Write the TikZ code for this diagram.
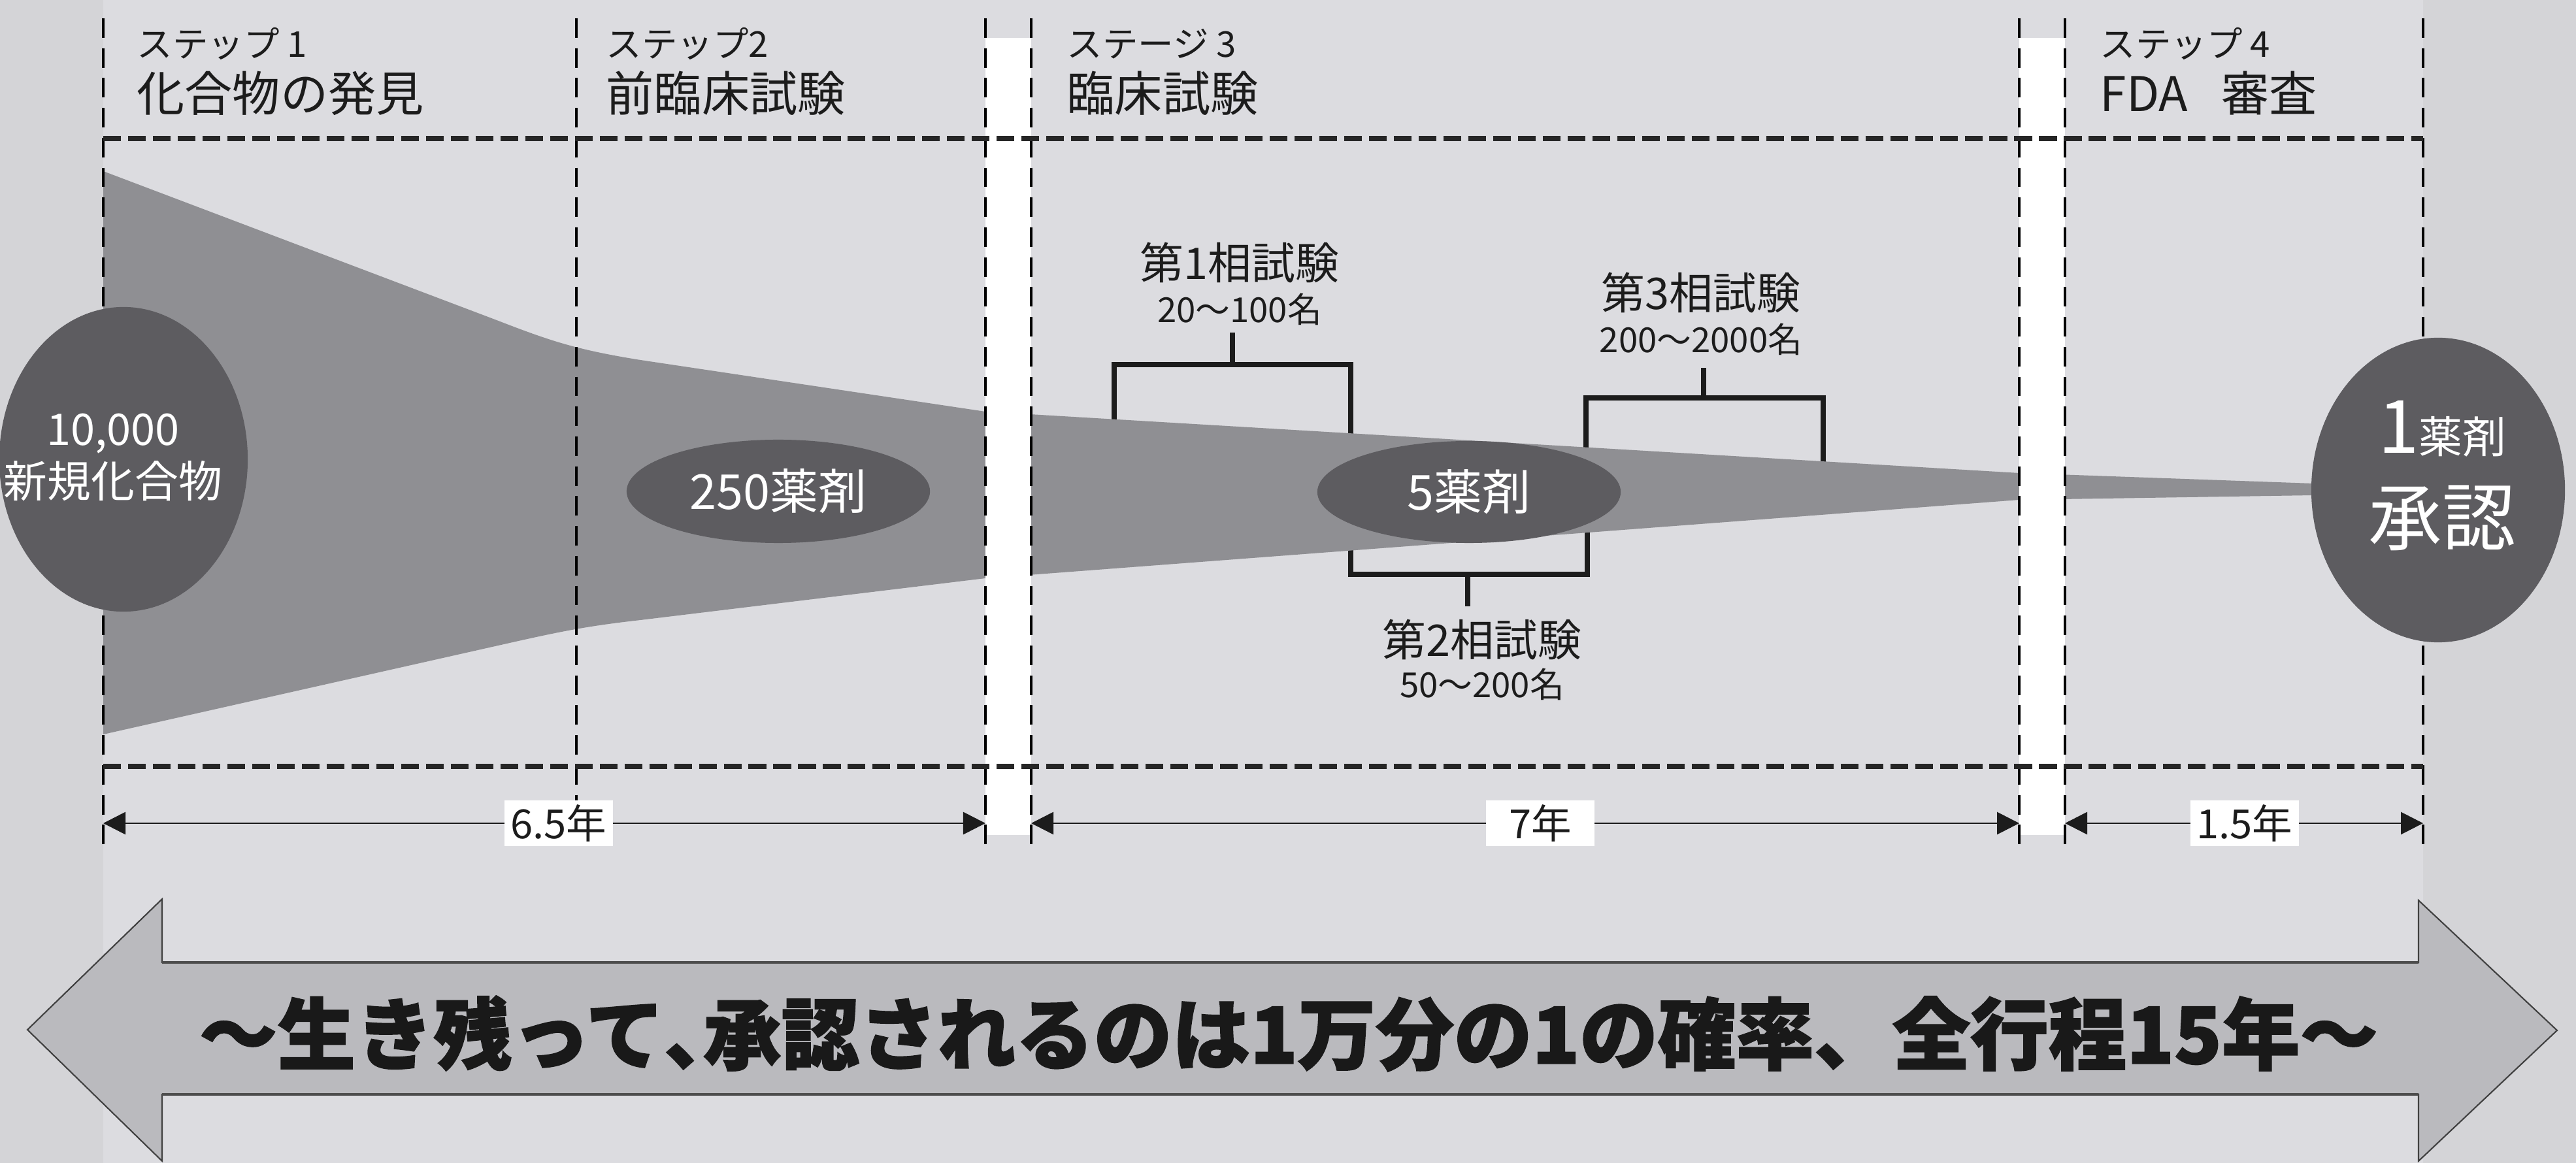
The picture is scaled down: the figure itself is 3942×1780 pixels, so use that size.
\documentclass[tikz,border=0pt]{standalone}
\usepackage{fontspec}
\setmainfont{Noto Sans CJK JP}
\newfontfamily\heavyjp{Noto Sans CJK JP}[BoldFeatures={FakeBold=1.6}]
\usetikzlibrary{arrows.meta, shapes.geometric, positioning}
\definecolor{pagegray}{RGB}{212,212,215}
\definecolor{bandgray}{RGB}{220,220,224}
\definecolor{funnelgray}{RGB}{143,143,147}
\definecolor{blobgray}{RGB}{93,92,96}
\definecolor{arrowgray}{RGB}{186,186,190}
\definecolor{inkgray}{RGB}{28,28,28}

\tikzset{
  steplbl/.style={anchor=west, inner sep=0pt, text=inkgray, font=\fontsize{15.5pt}{18pt}\selectfont},
  stagelbl/.style={anchor=west, inner sep=0pt, text=inkgray, font=\fontsize{20.8pt}{24pt}\selectfont},
  blob/.style={ellipse, fill=blobgray, text=white, inner sep=0pt, align=center},
  blobtext/.style={text=white, inner sep=0pt, align=center},
  phasename/.style={inner sep=0pt, text=inkgray, font=\fontsize{19pt}{22pt}\selectfont},
  phasecount/.style={inner sep=0pt, text=inkgray, font=\fontsize{15pt}{18pt}\selectfont},
  phasebox/.style={draw=inkgray, line width=2.3pt},
  gridv/.style={draw=black, line width=1.1pt, dash pattern=on 8.5pt off 4.5pt},
  gridh/.style={draw=black!85, line width=2.3pt, dash pattern=on 7.7pt off 3.1pt},
  dimline/.style={draw=inkgray, line width=0.8pt, {Triangle[length=3.4mm, width=3.4mm]}-{Triangle[length=3.4mm, width=3.4mm]}},
  yrlbl/.style={fill=white, text=inkgray, inner sep=0pt, minimum width=1.66cm, minimum height=0.7cm, font=\fontsize{17.5pt}{20pt}\selectfont},
}

\begin{document}
\begin{tikzpicture}[x=0.01cm, y=-0.01cm]
  \useasboundingbox (0,0) rectangle (3942,1780);
  % background
  \fill[pagegray] (0,0) rectangle (3942,1780);
  \fill[bandgray] (158,0) rectangle (3708,1780);

  % phase brackets (behind the funnel)
  \coordinate (b1) at (1886,558);
  \coordinate (b2) at (2246,879);
  \coordinate (b3) at (2607,609);
  \draw[phasebox] (1705,680) |- (b1) -| (2067,700);
  \draw[phasebox] (2067,820) |- (b2) -| (2429,780);
  \draw[phasebox] (2427,720) |- (b3) -| (2790,740);

  % funnel
  \fill[funnelgray] (158,262) -- (760,490) .. controls (840,521) and (880,535) .. (980,551)
    -- (1508,630) -- (3090,724) -- (3540,740) -- (3540,758) -- (3090,765) -- (1508,885)
    -- (980,949) .. controls (900,958) and (860,966) .. (780,984) -- (158,1124) -- cycle;

  % white gaps
  \fill[white] (1508,58) rectangle (1578,1278);
  \fill[white] (3090,58) rectangle (3160,1278);

  % dashed grid
  \foreach \gx in {158,882,1508,1578,3090,3160,3708}
    \draw[gridv] (\gx,28) -- (\gx,1295);
  \draw[gridh] (158,212) -- (3708,212);
  \draw[gridh] (158,1173) -- (3708,1173);

  % headings
  \node[steplbl] (s1) at (209,67) {ステップ 1};
  \node[stagelbl] (h1) at (209,143) {化合物の発見};
  \node[steplbl] (s2) at (927,67) {ステップ2};
  \node[stagelbl] (h2) at (927,143) {前臨床試験};
  \node[steplbl] (s3) at (1632,67) {ステージ 3};
  \node[stagelbl] (h3) at (1632,143) {臨床試験};
  \node[steplbl] (s4) at (3213,67) {ステップ 4};
  \node[stagelbl] (h4) at (3213,143) {FDA\hspace{0.7em}審査};

  % counts
  \node[blob, minimum width=3.8cm, minimum height=4.66cm] (c0) at (189,703) {};
  \node[blobtext, font=\fontsize{19pt}{22.8pt}\selectfont] (c0t) at (173,700) {10,000\\新規化合物};
  \node[blob, minimum width=4.64cm, minimum height=1.58cm, font=\fontsize{21pt}{24pt}\selectfont] (c1) at (1191,752) {250薬剤};
  \node[blob, minimum width=4.64cm, minimum height=1.56cm, font=\fontsize{21pt}{24pt}\selectfont] (c2) at (2248,753) {5薬剤};
  \node[blob, minimum width=3.88cm, minimum height=4.66cm] (c3) at (3731,750) {};
  \node[blobtext, font=\fontsize{32pt}{40pt}\selectfont] (c3t) at (3737,728)
    {1{\fontsize{19pt}{22pt}\selectfont 薬剤}\\承認};

  % phase labels
  \node[phasename] (ph1) at (1897,402) {第1相試験};
  \node[phasecount] (ph1n) at (1897,473) {20～100名};
  \node[phasename] (ph3) at (2603,448) {第3相試験};
  \node[phasecount] (ph3n) at (2603,519) {200～2000名};
  \node[phasename] (ph2) at (2268,979) {第2相試験};
  \node[phasecount] (ph2n) at (2268,1047) {50～200名};
  \draw[phasebox] (b1) -- (b1 |- 0,509);
  \draw[phasebox] (b3) -- (b3 |- 0,563);
  \draw[phasebox] (b2) -- (b2 |- 0,928);

  % durations
  \coordinate (d0) at (158,1260);
  \coordinate (d1) at (1508,1260);
  \coordinate (d2) at (1578,1260);
  \coordinate (d3) at (3090,1260);
  \coordinate (d4) at (3160,1260);
  \coordinate (d5) at (3708,1260);
  \draw[dimline] (d0) -- (d1);
  \draw[dimline] (d2) -- (d3);
  \draw[dimline] (d4) -- (d5);
  \node[yrlbl] (y1) at (855,1260) {6.5年};
  \node[yrlbl] (y2) at (2357,1260) {7年};
  \node[yrlbl] (y3) at (3435,1260) {1.5年};

  % total arrow
  \filldraw[fill=arrowgray, draw=black!75, line width=0.6pt]
    (42,1576) -- (248,1376) -- (248,1473) -- (3701,1473) -- (3701,1378) -- (3913,1577)
    -- (3701,1777) -- (3701,1675) -- (248,1675) -- (248,1777) -- cycle;
  \draw[black!70, line width=1.3pt] (248,1473) -- (3701,1473);
  \draw[black!70, line width=1.3pt] (248,1675) -- (3701,1675);
  \node[text=black!90, font=\heavyjp\fontsize{34pt}{40pt}\selectfont\bfseries] (total) at (1972,1582)
    {～生き残って\makebox[0.5em][l]{、}承認されるのは1万分の1の確率、全行程15年～};
\end{tikzpicture}
\end{document}
